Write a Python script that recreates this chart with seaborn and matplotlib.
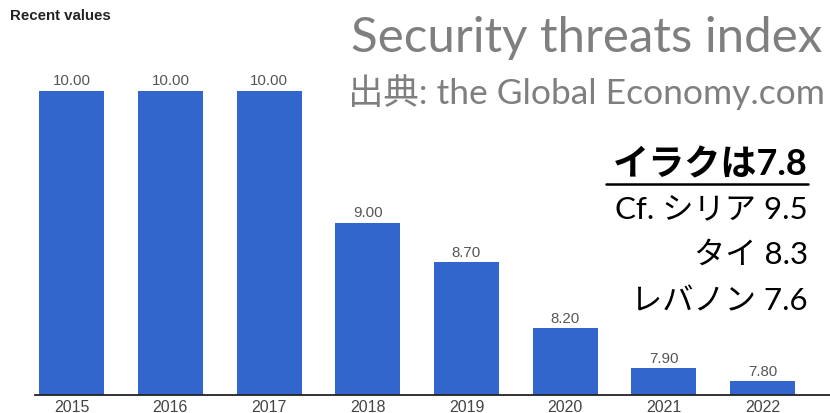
import matplotlib
matplotlib.use("Agg")
import matplotlib.pyplot as plt
from matplotlib.lines import Line2D
import seaborn as sns

# Security threats index for Iraq, recent years
years = ["2015", "2016", "2017", "2018", "2019", "2020", "2021", "2022"]
values = [10.00, 10.00, 10.00, 9.00, 8.70, 8.20, 7.90, 7.80]

title = "Security threats index"
source = "出典: the Global Economy.com"
headline = "イラクは7.8"
comparisons = ["Cf. シリア 9.5", "タイ 8.3", "レバノン 7.6"]

sns.set_theme(style="white")
plt.rcParams["font.family"] = ["Liberation Sans", "Noto Sans CJK JP"]

W, H = 830, 414
fig = plt.figure(figsize=(W / 100, H / 100), dpi=100)
ax = fig.add_axes([35 / W, (H - 395.5) / H, 1 - 35 / W, 395.5 / H])

sns.barplot(x=years, y=values, color="#3366CC", saturation=1, width=0.66,
            edgecolor="none", linewidth=0, ax=ax)

ax.set_xlim(-0.372, 7.684)
ax.set_ylim(7.7, 10.694)

ax.bar_label(ax.containers[0], fmt="%.2f", padding=2.5, color="#555555",
             fontsize=10.8, family=["Liberation Sans"])

for side in ("left", "right", "top"):
    ax.spines[side].set_visible(False)
ax.spines["bottom"].set_color("#222222")
ax.spines["bottom"].set_linewidth(1.3)
ax.set_yticks([])
ax.set_xlabel("")
ax.set_ylabel("")
ax.tick_params(axis="x", length=0, pad=3.5, labelcolor="#444444")
for lbl in ax.get_xticklabels():
    lbl.set_family(["Liberation Sans Narrow", "Liberation Sans"])
    lbl.set_fontsize(11.5)

# Header text
fig.text(10 / W, 1 - 16 / H, "Recent values", fontsize=10.8, fontweight="bold",
         color="#222222", ha="left", va="center", family=["Liberation Sans"])
jp = ["Lato", "Noto Sans CJK JP"]
fig.text(822 / W, 1 - 52 / H, title, fontsize=35.5, color="#7f7f7f",
         ha="right", va="baseline", family=jp)
fig.text(825 / W, 1 - 104 / H, source, fontsize=25.5, color="#7f7f7f",
         ha="right", va="baseline", family=jp)

# Comparison block on the right
fig.text(808 / W, 1 - 175 / H, headline, fontsize=26, fontweight="bold",
         color="black", ha="right", va="baseline", family=jp)
fig.add_artist(Line2D([606 / W, 808 / W], [1 - 185 / H, 1 - 185 / H],
                      transform=fig.transFigure, color="black", lw=1.8))
for i, line in enumerate(comparisons):
    fig.text(808 / W, 1 - (218 + 46 * i) / H, line, fontsize=22.5,
             color="black", ha="right", va="baseline", family=jp)

fig.savefig("out.png", dpi=100)
